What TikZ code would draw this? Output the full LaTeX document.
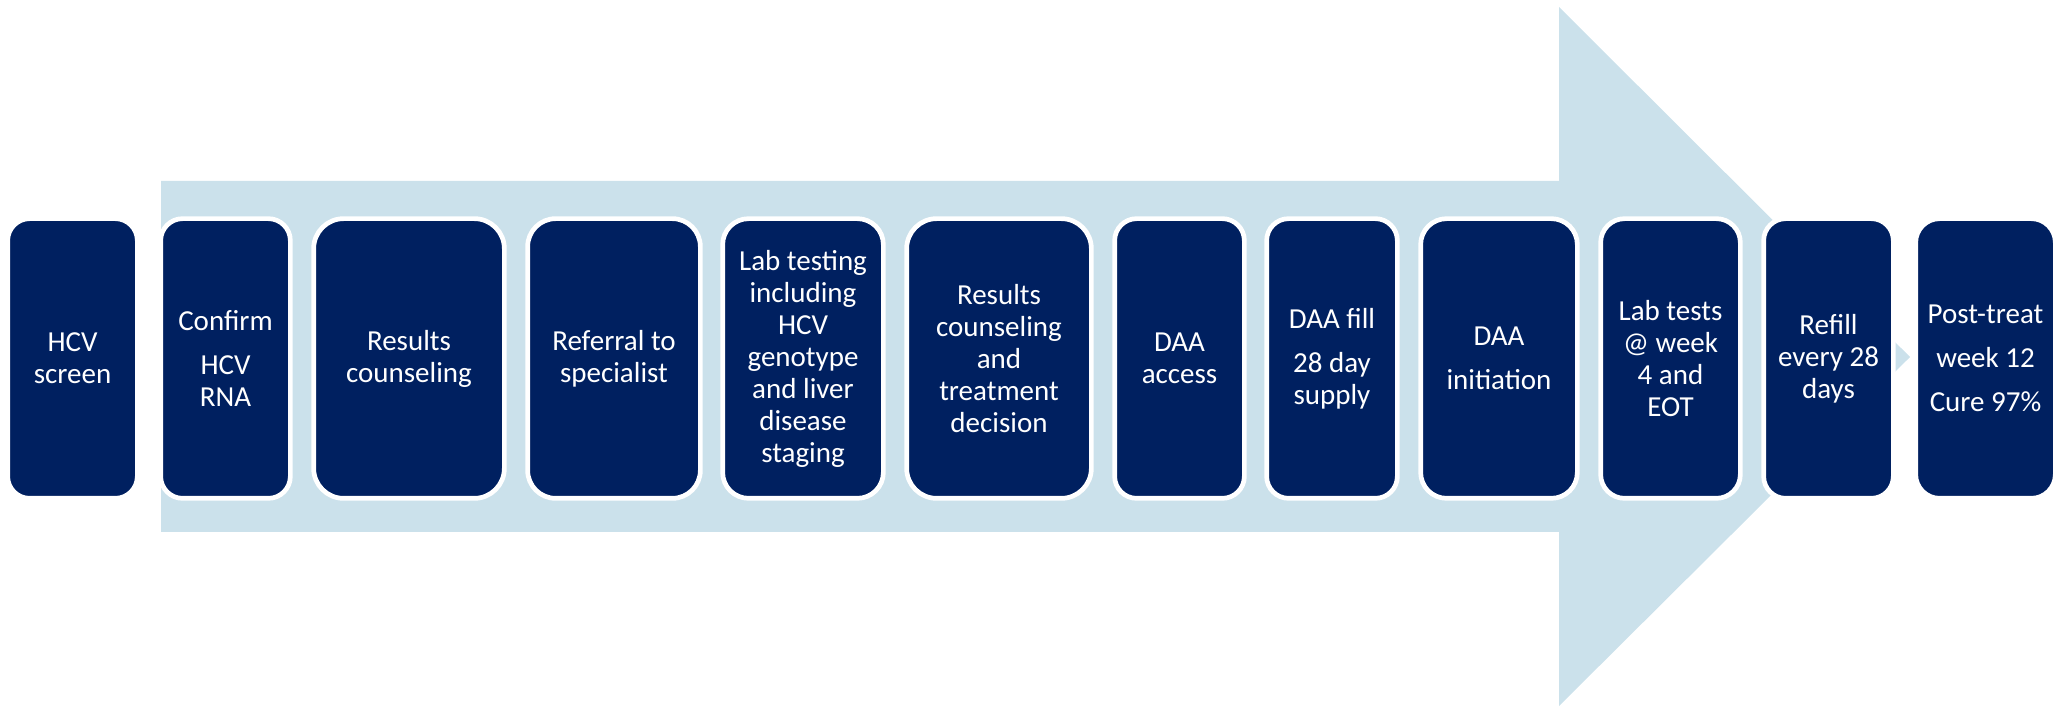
\documentclass[tikz,border=0pt]{standalone}
\usepackage{fontspec}
\setmainfont{Carlito}
\usepackage{tikz}
\definecolor{NavyBlue}{HTML}{002060}
\definecolor{ArrowBlue}{HTML}{CBE1EB}
\tikzset{
  stepbox/.style={
    draw=white,fill=NavyBlue,line width=0.047cm,
    rounded corners=0.22cm,minimum height=2.797cm,inner sep=0pt,
    font=\fontsize{8.25}{9.1}\selectfont\color{white},align=center
  },
}

\begin{document}
\begin{tikzpicture}
  \useasboundingbox (0,0) rectangle (20.55,7.07);
  % big arrow behind the steps
  \fill[ArrowBlue] (1.61,1.75) -- (15.59,1.75) -- (15.59,0.01) -- (19.10,3.50)
    -- (15.59,7.00) -- (15.59,5.26) -- (1.61,5.26) -- cycle;
  % steps
  \node[stepbox, minimum width=1.297cm] (s1) at (0.725, 3.485) {HCV\\screen};
  \node[stepbox, minimum width=1.297cm] (s2) at (2.255, 3.485) {Confirm\\[3.4pt]HCV\\RNA};
  \node[stepbox, minimum width=1.907cm, rounded corners=0.3cm] (s3) at (4.09, 3.485) {Results\\counseling};
  \node[stepbox, minimum width=1.727cm, rounded corners=0.28cm] (s4) at (6.14, 3.485) {Referral to\\specialist};
  \node[stepbox, minimum width=1.607cm, rounded corners=0.26cm] (s5) at (8.03, 3.485) {Lab testing\\including\\HCV\\genotype\\and liver\\disease\\staging};
  \node[stepbox, minimum width=1.847cm, rounded corners=0.3cm] (s6) at (9.99, 3.485) {Results\\counseling\\and\\treatment\\decision};
  \node[stepbox, minimum width=1.297cm] (s7) at (11.795, 3.485) {DAA\\access};
  \node[stepbox, minimum width=1.307cm] (s8) at (13.32, 3.485) {DAA fill\\[3.4pt]28 day\\supply};
  \node[stepbox, minimum width=1.567cm, rounded corners=0.26cm] (s9) at (14.99, 3.485) {DAA\\[3.4pt]initiation};
  \node[stepbox, minimum width=1.397cm, rounded corners=0.24cm] (s10) at (16.705, 3.485) {Lab tests\\@ week\\4 and\\EOT};
  \node[stepbox, minimum width=1.297cm] (s11) at (18.285, 3.485) {Refill\\every 28\\days};
  \node[stepbox, minimum width=1.397cm, rounded corners=0.24cm] (s12) at (19.855, 3.485) {Post-treat\\[3.4pt]week 12\\[3.4pt]Cure 97\%};
\end{tikzpicture}
\end{document}
